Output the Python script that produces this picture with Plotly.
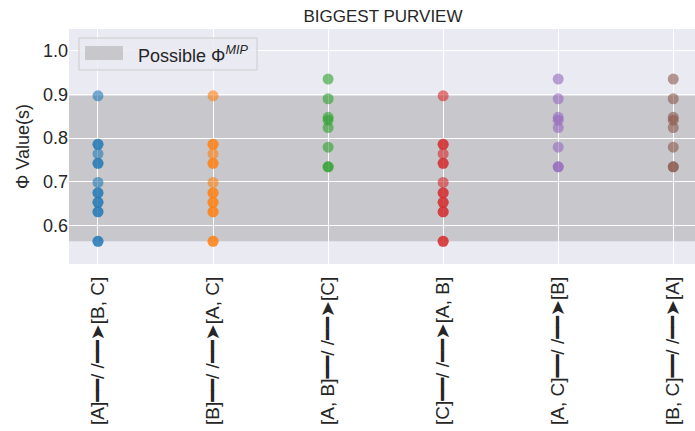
import plotly.graph_objects as go

# Cut directions (x categories)
cuts = [
    "[A]━━/ /━━➤[B, C]",
    "[B]━━/ /━━➤[A, C]",
    "[A, B]━━/ /━━➤[C]",
    "[C]━━/ /━━➤[A, B]",
    "[A, C]━━/ /━━➤[B]",
    "[B, C]━━/ /━━➤[A]",
]

# Phi values for each cut (repeated values are coincident points)
phi_a_bc = [0.8968, 0.7857, 0.7857, 0.7639, 0.7421, 0.7421, 0.6984, 0.6746,
            0.6746, 0.6528, 0.6528, 0.6310, 0.6310, 0.5635, 0.5635]
phi_b_ac = [0.8968, 0.7857, 0.7857, 0.7639, 0.7421, 0.7421, 0.6984, 0.6746,
            0.6746, 0.6528, 0.6528, 0.6310, 0.6310, 0.5635, 0.5635]
phi_ab_c = [0.9350, 0.8900, 0.8475, 0.8410, 0.8240, 0.7790, 0.7340, 0.7340]
phi_c_ab = [0.8968, 0.7857, 0.7857, 0.7639, 0.7421, 0.7421, 0.6984, 0.6746,
            0.6746, 0.6528, 0.6528, 0.6310, 0.6310, 0.5635, 0.5635]
phi_ac_b = [0.9350, 0.8900, 0.8475, 0.8410, 0.8240, 0.7790, 0.7340, 0.7340]
phi_bc_a = [0.9350, 0.8900, 0.8475, 0.8410, 0.8240, 0.7790, 0.7340, 0.7340]

series = [phi_a_bc, phi_b_ac, phi_ab_c, phi_c_ab, phi_ac_b, phi_bc_a]

# Range of possible Phi^MIP
phi_mip_min = 0.5635
phi_mip_max = 0.8968

y_ticks = [0.6, 0.7, 0.8, 0.9, 1.0]

palette = ["#1f77b4", "#ff7f0e", "#2ca02c", "#d62728", "#9467bd", "#8c564b"]
text_color = "#262626"
font_family = "Liberation Sans, Arial, DejaVu Sans, sans-serif"

fig = go.Figure()

for cut, vals, col in zip(cuts, series, palette):
    fig.add_trace(go.Scatter(
        x=[cut] * len(vals),
        y=vals,
        mode="markers",
        marker=dict(size=11, color=col, opacity=0.6, line=dict(width=0)),
        showlegend=False,
        hoverinfo="x+y",
    ))

# Shaded band for the possible Phi^MIP range
fig.add_shape(
    type="rect", xref="paper", x0=0, x1=1, yref="y",
    y0=phi_mip_min, y1=phi_mip_max,
    fillcolor="rgba(128,128,128,0.33)", line=dict(width=0), layer="between",
)

# Legend box (drawn by hand)
fig.add_shape(
    type="rect", xref="paper", yref="paper",
    x0=(79 - 69) / 626, x1=(257 - 69) / 626,
    y0=(264 - 70) / 235, y1=(264 - 38) / 235,
    fillcolor="rgba(234,234,242,0.8)", line=dict(color="#cccccc", width=1),
    layer="above",
)
fig.add_shape(
    type="rect", xref="paper", yref="paper",
    x0=(85 - 69) / 626, x1=(123 - 69) / 626,
    y0=(264 - 60) / 235, y1=(264 - 46) / 235,
    fillcolor="rgb(200,199,204)", line=dict(width=0), layer="above",
)
fig.add_annotation(
    xref="paper", yref="paper",
    x=(136 - 69) / 626, y=(264 - 54) / 235,
    xanchor="left", yanchor="middle", showarrow=False,
    text="Possible Φ<sup><i>MIP</i></sup>",
    font=dict(size=18, color=text_color, family=font_family),
)

fig.update_layout(
    width=695, height=431,
    margin=dict(l=69, r=0, t=29, b=167, pad=0),
    paper_bgcolor="white",
    plot_bgcolor="#eaeaf2",
    font=dict(family=font_family, color=text_color, size=18),
    title=dict(
        text="BIGGEST PURVIEW",
        x=(383) / 695, xanchor="center",
        y=1 - 16 / 431, yanchor="middle",
        font=dict(size=17, color=text_color, family=font_family),
    ),
    xaxis=dict(
        type="category",
        categoryorder="array", categoryarray=cuts,
        range=[-0.252, 5.189],
        showgrid=True, gridcolor="white", gridwidth=1.3,
        zeroline=False, showline=False, ticks="",
        tickangle=-90,
        ticklabelstandoff=8,
        tickfont=dict(size=19, color=text_color),
    ),
    yaxis=dict(
        range=[0.5116, 1.0497],
        tickvals=y_ticks,
        ticktext=[f"{v:.1f}" for v in y_ticks],
        showgrid=True, gridcolor="white", gridwidth=1.3,
        zeroline=False, showline=False, ticks="",
        tickfont=dict(size=18, color=text_color),
        title=dict(text="Φ Value(s)", font=dict(size=18, color=text_color), standoff=8),
    ),
)

fig.write_html("out.html")
